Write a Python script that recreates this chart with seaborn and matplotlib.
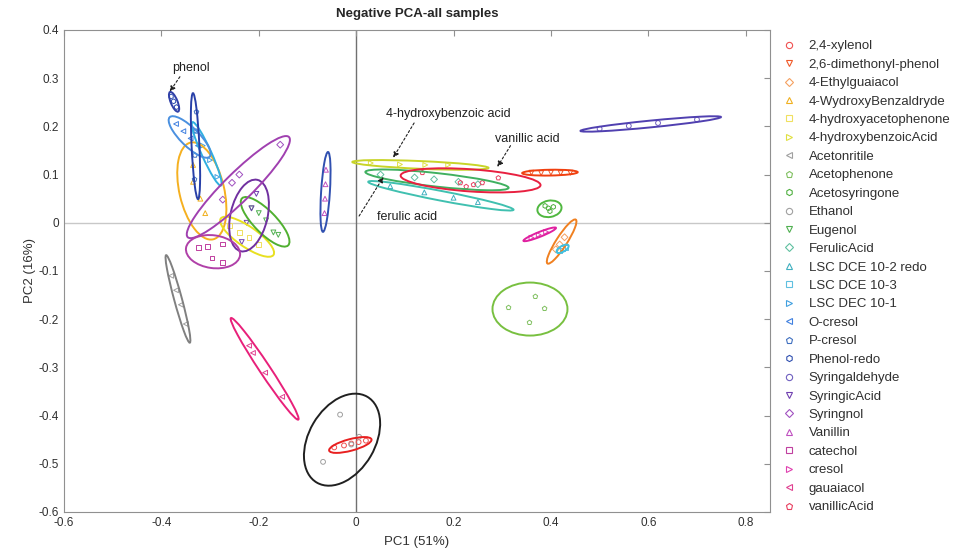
import matplotlib
matplotlib.use("Agg")
import matplotlib.pyplot as plt
from matplotlib.patches import Ellipse
from matplotlib.lines import Line2D
import seaborn as sns
import pandas as pd

# sample groups, in legend order
samples = ['2,4-xylenol', '2,6-dimethonyl-phenol', '4-Ethylguaiacol', '4-WydroxyBenzaldryde',
           '4-hydroxyacetophenone', '4-hydroxybenzoicAcid', 'Acetonritile', 'Acetophenone',
           'Acetosyringone', 'Ethanol', 'Eugenol', 'FerulicAcid', 'LSC DCE 10-2 redo',
           'LSC DCE 10-3', 'LSC DEC 10-1', 'O-cresol', 'P-cresol', 'Phenol-redo',
           'Syringaldehyde', 'SyringicAcid', 'Syringnol', 'Vanillin', 'catechol', 'cresol',
           'gauaiacol', 'vanillicAcid']

point_colors = ['#f05050', '#f05a2a', '#f5a060', '#f0b020', '#f0e060', '#e0e040', '#a0a0a0',
                '#80c060', '#50b040', '#a0a0a0', '#50b050', '#60c0a0', '#40b0c0', '#60c0e0',
                '#40a0e0', '#4080e0', '#4070c0', '#3050b0', '#7060c0', '#7040b0', '#a050c0',
                '#c050c0', '#c040a0', '#e040b0', '#e04090', '#e84060']

ellipse_colors = ['#e82020', '#f04010', '#f08020', '#f5b020', '#e8e020', '#c8d428', '#808080',
                  '#78c040', '#50b840', '#202020', '#50b030', '#40b060', '#40c0b0', '#40c0e0',
                  '#30b0e0', '#4a90e0', '#2840a8', '#3040a8', '#5040b0', '#7030a0', '#a040b0',
                  '#3050b0', '#b040a8', '#e020a0', '#e8207a', '#e82040']

markers = ['o', 'v', 'D', '^', 's', '>', '<', 'p', 'h'] * 3

# PC1 / PC2 scores per sample group
pc1 = {
    '2,4-xylenol': [-0.045, -0.025, -0.010, 0.005, 0.020],
    '2,6-dimethonyl-phenol': [0.36, 0.38, 0.40, 0.42, 0.44],
    '4-Ethylguaiacol': [0.410, 0.418, 0.428],
    '4-WydroxyBenzaldryde': [-0.335, -0.335, -0.320, -0.310],
    '4-hydroxyacetophenone': [-0.26, -0.24, -0.22, -0.20],
    '4-hydroxybenzoicAcid': [0.03, 0.09, 0.142, 0.189],
    'Acetonritile': [-0.38, -0.37, -0.36, -0.35],
    'Acetophenone': [0.313, 0.368, 0.387, 0.356],
    'Acetosyringone': [0.388, 0.398, 0.405, 0.395],
    'Ethanol': [-0.033, -0.068, 0.006, -0.010],
    'Eugenol': [-0.215, -0.200, -0.185, -0.170, -0.160],
    'FerulicAcid': [0.05, 0.12, 0.16, 0.21, 0.25],
    'LSC DCE 10-2 redo': [0.07, 0.14, 0.20, 0.25],
    'LSC DCE 10-3': [0.418, 0.424, 0.430],
    'LSC DEC 10-1': [-0.33, -0.315, -0.30, -0.285],
    'O-cresol': [-0.37, -0.355, -0.34, -0.325],
    'P-cresol': [-0.328, -0.329, -0.331, -0.332],
    'Phenol-redo': [-0.380, -0.375, -0.369],
    'Syringaldehyde': [0.50, 0.56, 0.62, 0.70],
    'SyringicAcid': [-0.205, -0.215, -0.225, -0.235],
    'Syringnol': [-0.156, -0.255, -0.274, -0.24],
    'Vanillin': [-0.062, -0.063, -0.064, -0.065],
    'catechol': [-0.305, -0.274, -0.323, -0.296, -0.274],
    'cresol': [0.360, 0.375, 0.390],
    'gauaiacol': [-0.22, -0.212, -0.187, -0.152],
    'vanillicAcid': [0.136, 0.214, 0.241, 0.259, 0.292, 0.226],
}
pc2 = {
    '2,4-xylenol': [-0.466, -0.462, -0.458, -0.455, -0.452],
    '2,6-dimethonyl-phenol': [0.104, 0.103, 0.104, 0.103, 0.104],
    '4-Ethylguaiacol': [-0.055, -0.045, -0.030],
    '4-WydroxyBenzaldryde': [0.12, 0.085, 0.05, 0.02],
    '4-hydroxyacetophenone': [-0.005, -0.02, -0.03, -0.045],
    '4-hydroxybenzoicAcid': [0.124, 0.121, 0.120, 0.120],
    'Acetonritile': [-0.11, -0.14, -0.17, -0.21],
    'Acetophenone': [-0.176, -0.153, -0.178, -0.207],
    'Acetosyringone': [0.035, 0.024, 0.033, 0.030],
    'Ethanol': [-0.398, -0.496, -0.444, -0.460],
    'Eugenol': [0.030, 0.020, 0.005, -0.020, -0.025],
    'FerulicAcid': [0.100, 0.094, 0.090, 0.085, 0.080],
    'LSC DCE 10-2 redo': [0.076, 0.063, 0.052, 0.043],
    'LSC DCE 10-3': [-0.057, -0.054, -0.051],
    'LSC DEC 10-1': [0.19, 0.16, 0.13, 0.095],
    'O-cresol': [0.205, 0.19, 0.175, 0.16],
    'P-cresol': [0.23, 0.19, 0.14, 0.09],
    'Phenol-redo': [0.262, 0.252, 0.240],
    'Syringaldehyde': [0.195, 0.201, 0.207, 0.214],
    'SyringicAcid': [0.06, 0.03, 0.0, -0.04],
    'Syringnol': [0.162, 0.083, 0.048, 0.10],
    'Vanillin': [0.11, 0.08, 0.05, 0.02],
    'catechol': [-0.049, -0.044, -0.052, -0.073, -0.083],
    'cresol': [-0.031, -0.025, -0.019],
    'gauaiacol': [-0.255, -0.270, -0.311, -0.361],
    'vanillicAcid': [0.104, 0.083, 0.079, 0.083, 0.093, 0.075],
}

# confidence ellipses: centre, semi-axes, rotation (deg)
ell_cx = [-0.012, 0.398, 0.422, -0.317, -0.224, 0.132, -0.366, 0.357, 0.397, -0.029, -0.187,
          0.166, 0.174, 0.424, -0.307, -0.342, -0.330, -0.374, 0.605, -0.220, -0.242, -0.063,
          -0.294, 0.377, -0.188, 0.235]
ell_cy = [-0.461, 0.104, -0.039, 0.066, -0.029, 0.120, -0.158, -0.179, 0.029, -0.450, 0.002,
          0.089, 0.056, -0.054, 0.143, 0.178, 0.159, 0.251, 0.205, 0.015, 0.074, 0.064,
          -0.060, -0.024, -0.303, 0.088]
ell_a = [0.045, 0.057, 0.054, 0.103, 0.066, 0.140, 0.094, 0.077, 0.025, 0.103, 0.068, 0.148,
         0.152, 0.014, 0.072, 0.058, 0.110, 0.022, 0.145, 0.076, 0.147, 0.083, 0.056, 0.036,
         0.126, 0.144]
ell_b = [0.012, 0.006, 0.011, 0.046, 0.021, 0.008, 0.008, 0.055, 0.017, 0.068, 0.023, 0.014,
         0.010, 0.006, 0.010, 0.019, 0.008, 0.007, 0.007, 0.038, 0.029, 0.009, 0.034, 0.005,
         0.011, 0.023]
ell_ang = [15, 1, 57.5, 103, -35, -2.5, -75, 0, 10, 60, -46, -6.4, -11, 30, -66, -45, 92.7,
           -68, 5.7, 77, 45, 86.4, -8, 22, -56.7, -4]

rows = []
for s in samples:
    for x, y in zip(pc1[s], pc2[s]):
        rows.append((s, x, y))
df = pd.DataFrame(rows, columns=['sample', 'PC1', 'PC2'])

sns.set_style('white')
plt.rcParams['font.family'] = ['Liberation Sans', 'DejaVu Sans']

fig = plt.figure(figsize=(9.63, 5.52), dpi=100)
ax = fig.add_axes([0.0665, 0.0725, 0.7331, 0.8732])

ax.axhline(0, color='#c8c8c8', lw=1, zorder=0)
ax.axvline(0, color='#707070', lw=1, zorder=0)

sns.scatterplot(data=df, x='PC1', y='PC2', hue='sample', style='sample',
                hue_order=samples, style_order=samples,
                palette=dict(zip(samples, point_colors)),
                markers=dict(zip(samples, markers)),
                s=12, linewidth=0.7, legend=False, ax=ax)
coll = ax.collections[-1]
fc = coll.get_facecolors()
coll.set_edgecolors(fc)
coll.set_facecolors('none')

for i in range(len(samples)):
    ax.add_patch(Ellipse((ell_cx[i], ell_cy[i]), 2 * ell_a[i], 2 * ell_b[i], angle=ell_ang[i],
                         fill=False, edgecolor=ellipse_colors[i], lw=1.4))

arrow = dict(arrowstyle='-|>', color='#202020', lw=0.8, linestyle=(0, (2, 2)),
             mutation_scale=8, shrinkA=0, shrinkB=0)
lbl = dict(fontsize=9, ha='center', va='center', color='#202020')
ax.text(-0.340, 0.322, 'phenol', **lbl)
ax.annotate('', xy=(-0.383, 0.272), xytext=(-0.362, 0.303), arrowprops=arrow)
ax.text(0.189, 0.226, '4-hydroxybenzoic acid', **lbl)
ax.annotate('', xy=(0.076, 0.135), xytext=(0.119, 0.207), arrowprops=arrow)
ax.text(0.352, 0.174, 'vanillic acid', **lbl)
ax.annotate('', xy=(0.290, 0.116), xytext=(0.317, 0.160), arrowprops=arrow)
ax.text(0.105, 0.012, 'ferulic acid', **lbl)
ax.annotate('', xy=(0.056, 0.095), xytext=(0.006, 0.014), arrowprops=arrow)

ax.set_xlim(-0.6, 0.85)
ax.set_ylim(-0.6, 0.4)
xt = [-0.6, -0.4, -0.2, 0, 0.2, 0.4, 0.6, 0.8]
yt = [-0.6, -0.5, -0.4, -0.3, -0.2, -0.1, 0, 0.1, 0.2, 0.3, 0.4]
ax.set_xticks(xt)
ax.set_xticklabels(['-0.6', '-0.4', '-0.2', '0', '0.2', '0.4', '0.6', '0.8'])
ax.set_yticks(yt)
ax.set_yticklabels(['-0.6', '-0.5', '-0.4', '-0.3', '-0.2', '-0.1', '0', '0.1', '0.2', '0.3', '0.4'])
ax.tick_params(direction='in', length=4, width=0.8, colors='#909090', labelcolor='#303030',
               labelsize=8.5, top=True, right=True)
for sp in ax.spines.values():
    sp.set_color('#909090')
    sp.set_linewidth(0.8)

ax.set_xlabel('PC1 (51%)', fontsize=9.5, color='#303030', labelpad=5)
ax.set_ylabel('PC2 (16%)', fontsize=9.5, color='#303030', labelpad=2)
ax.set_title('Negative PCA-all samples', fontsize=9.5, fontweight='bold', pad=9)

handles = [Line2D([], [], linestyle='none', marker=markers[i], markersize=4.5,
                  markerfacecolor='none', markeredgecolor=point_colors[i], markeredgewidth=0.8)
           for i in range(len(samples))]
fig.legend(handles, samples, loc='upper left', bbox_to_anchor=(0.807, 0.937), frameon=False,
           fontsize=9.5, labelspacing=0.47, handlelength=1.0, handletextpad=1.0,
           borderaxespad=0, labelcolor='#303030')

fig.savefig('out.png', dpi=100)
